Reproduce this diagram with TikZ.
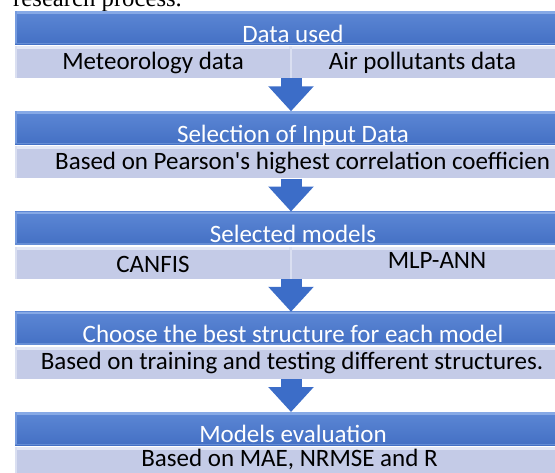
\documentclass[tikz,border=0pt]{standalone}
\usepackage{fontspec}
\setmainfont{Carlito}[Ligatures=TeXOff]
\newfontfamily\capfont{Liberation Serif}
\usetikzlibrary{arrows.meta}
\definecolor{hdrTop}{HTML}{5C87D5}
\definecolor{hdrBot}{HTML}{4470C4}
\definecolor{hdrHi}{HTML}{86A9E6}
\definecolor{subFill}{HTML}{C4CBE7}
\definecolor{subHi}{HTML}{E3E7F5}
\definecolor{arrowBlue}{HTML}{3C6DC8}
\begin{document}
\begin{tikzpicture}[x=1pt,y=-1pt,
  hdrbox/.style={rectangle, inner sep=0pt, minimum width=556pt, minimum height=33pt,
    anchor=north west, top color=hdrTop, bottom color=hdrBot,
    path picture={
      \fill[hdrHi] (path picture bounding box.north west) rectangle ([yshift=-2.5pt]path picture bounding box.north east);
      \fill[hdrHi!60!hdrTop] (path picture bounding box.north west) rectangle ([xshift=2pt]path picture bounding box.south west);
      \fill[hdrHi!50!hdrBot] (path picture bounding box.south west) rectangle ([yshift=1.5pt]path picture bounding box.south east);}},
  subbox/.style={rectangle, inner sep=0pt, minimum height=32pt, anchor=north west, fill=subFill,
    path picture={
      \fill[subHi] (path picture bounding box.north west) rectangle ([yshift=-3pt]path picture bounding box.north east);
      \fill[subHi!70!subFill] (path picture bounding box.north west) rectangle ([xshift=2pt]path picture bounding box.south west);}},
  hdrtxt/.style={text=white, font=\fontsize{25}{30}\selectfont, anchor=base, inner sep=0pt},
  subtxt/.style={text=black, font=\fontsize{25}{30}\selectfont, anchor=base, inner sep=0pt},
  blockarr/.style={draw=arrowBlue, line width=21pt, -{Triangle[width=44pt,length=25pt]}}
]
\useasboundingbox (0,0) rectangle (555,472);
\clip (0,0) rectangle (555,472);
\coordinate (ax) at (291,0);

% caption fragment
\node[font=\capfont\fontsize{24.7}{29}\selectfont, anchor=base west, inner sep=0pt] (cap) at (13,6) {research process.};

% block 1
\node[hdrbox] (h1) at (15,11) {};
\node[subbox, minimum width=274.5pt] (s1a) at (15,46) {};
\node[subbox, minimum width=281pt] (s1b) at (290,46) {};
\node[hdrtxt] (h1t) at (293,42) {Data used};
\node[subtxt] (s1at) at (153,69) {Meteorology data};
\node[subtxt] (s1bt) at (422.5,69) {Air pollutants data};

% block 2
\node[hdrbox] (h2) at (15,111.25) {};
\node[subbox, minimum width=556pt] (s2) at (15,146.25) {};
\node[hdrtxt] (h2t) at (293,142.25) {Selection of Input Data};
\node[subtxt, anchor=base west] (s2t) at (55,169.25) {Based on Pearson's highest correlation coefficien};

% block 3
\node[hdrbox] (h3) at (15,211.5) {};
\node[subbox, minimum width=274.5pt] (s3a) at (15,246.5) {};
\node[subbox, minimum width=281pt] (s3b) at (290,246.5) {};
\node[hdrtxt] (h3t) at (293,242.5) {Selected models};
\node[subtxt] (s3at) at (153,272.5) {CANFIS};
\node[subtxt] (s3bt) at (437,268.5) {MLP-ANN};

% block 4
\node[hdrbox] (h4) at (15,311.75) {};
\node[subbox, minimum width=556pt] (s4) at (15,346.75) {};
\node[hdrtxt] (h4t) at (293,342.75) {Choose the best structure for each model};
\node[subtxt] (s4t) at (292,369.75) {Based on training and testing different structures.};

% block 5
\node[hdrbox] (h5) at (15,412) {};
\node[subbox, minimum width=556pt] (s5) at (15,447) {};
\node[hdrtxt] (h5t) at (293,442) {Models evaluation};
\node[subtxt] (s5t) at (289.5,466.5) {Based on MAE, NRMSE and R};

% arrows
\draw[blockarr] (s1a.south -| ax) -- (h2.north -| ax);
\draw[blockarr] (s2.south -| ax) -- (h3.north -| ax);
\draw[blockarr] (s3a.south -| ax) -- (h4.north -| ax);
\draw[blockarr] (s4.south -| ax) -- (h5.north -| ax);
\end{tikzpicture}
\end{document}
